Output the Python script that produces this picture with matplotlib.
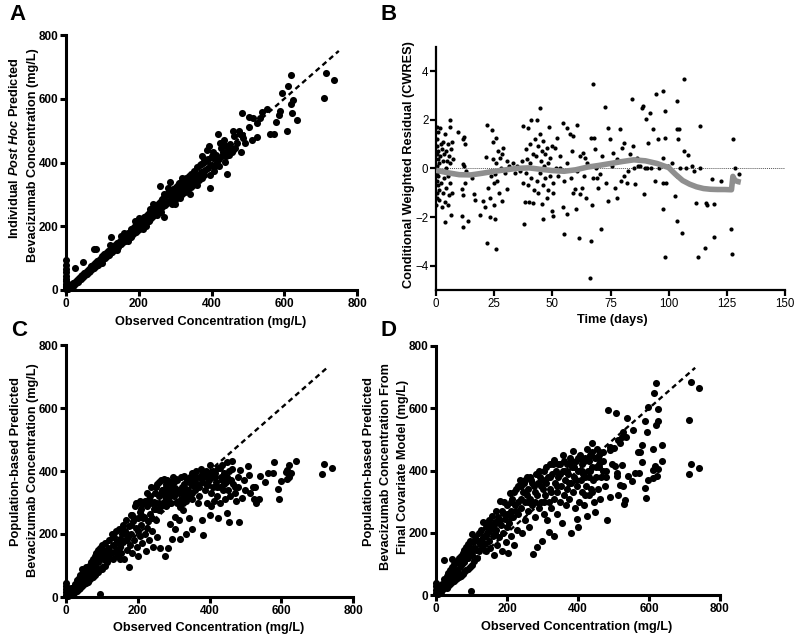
import matplotlib
matplotlib.use('Agg')
import matplotlib.pyplot as plt
import numpy as np

plt.rcParams['font.family'] = ['Liberation Sans', 'DejaVu Sans']
plt.rcParams['mathtext.fontset'] = 'custom'
plt.rcParams['mathtext.it'] = 'Liberation Sans:italic:bold'
plt.rcParams['mathtext.rm'] = 'Liberation Sans:bold'

# ---- data ------------------------------------------------------------------
# panel A: observed vs individual post hoc predicted (mg/L)
pairs_a = [
    (0, 4), (0, 12), (0, 20), (0, 28), (0, 36), (0, 45), (0, 55), (0, 65), (0, 78), (0, 94),
    (1, 8), (2, 18), (3, 2), (4, 6), (6, 4),
    (8, 10), (10, 6), (12, 15), (14, 9), (16, 18), (18, 14), (20, 22), (22, 16), (25, 68), (25, 26),
    (27, 21), (30, 32), (32, 26), (35, 38), (37, 31), (40, 43), (42, 36), (45, 48), (48, 87), (47, 42),
    (50, 54), (52, 46), (55, 58), (57, 51), (60, 64), (62, 56), (65, 69), (67, 60), (70, 74), (72, 65),
    (75, 80), (77, 70), (78, 128), (82, 128), (80, 84), (82, 76), (85, 90), (87, 80), (90, 95), (92, 86),
    (95, 100), (97, 90), (100, 106), (102, 96),
    (105, 112), (107, 101), (110, 116), (112, 106), (115, 121), (117, 110), (120, 126), (122, 115),
    (123, 165), (125, 131), (127, 120), (130, 137), (132, 124), (135, 142), (137, 130), (140, 147),
    (142, 134), (145, 152), (147, 140), (150, 158), (152, 144), (155, 162), (157, 150), (160, 168),
    (162, 154), (165, 172), (167, 158), (170, 178), (172, 163), (175, 183), (177, 168), (180, 190),
    (182, 173), (185, 195), (187, 178), (190, 200), (192, 183), (195, 205), (197, 188), (200, 212),
    (202, 192), (205, 218), (207, 197), (210, 222), (212, 190),
    (215, 228), (217, 205), (220, 232), (222, 212), (225, 238), (227, 218), (230, 244), (232, 224),
    (235, 250), (237, 228), (240, 256), (242, 234), (245, 262), (247, 240), (250, 268), (252, 246),
    (255, 274), (257, 250), (258, 325), (260, 280), (262, 256), (265, 286), (267, 262), (270, 230),
    (270, 292), (272, 268), (275, 298), (277, 272), (280, 304), (282, 278), (285, 308), (287, 338),
    (288, 282), (290, 312), (292, 270), (295, 316), (297, 290), (300, 282),
    (302, 322), (305, 300), (308, 330), (310, 312), (313, 290), (315, 340), (318, 318), (320, 300),
    (323, 348), (325, 326), (328, 308), (330, 352), (333, 334), (335, 316), (338, 358), (340, 340),
    (343, 322), (345, 365), (348, 346), (350, 330), (353, 372), (355, 352), (358, 336), (360, 385),
    (363, 362), (365, 345), (368, 392), (370, 370), (373, 352), (375, 420), (378, 400), (380, 410),
    (383, 378), (385, 405), (388, 440), (390, 382), (393, 452), (395, 362), (397, 320), (400, 392),
    (403, 432), (405, 415), (408, 372), (412, 424), (415, 402), (418, 488), (420, 412), (422, 460),
    (425, 446), (428, 420), (432, 432), (435, 472), (438, 402), (440, 452), (442, 365), (445, 440),
    (448, 422), (450, 458), (455, 432), (460, 500), (463, 482), (465, 445), (470, 462), (475, 498),
    (478, 490), (480, 432),
    (150, 170), (170, 155), (190, 215), (210, 200), (230, 255), (250, 235), (270, 300), (290, 295),
    (310, 335), (330, 315), (350, 360), (370, 395), (390, 410), (410, 390), (430, 455), (450, 440),
    (360, 330), (340, 300), (320, 330), (300, 305),
    (100, 85), (120, 140), (140, 125), (160, 180), (180, 165), (200, 225), (220, 200), (240, 270),
    (260, 245), (280, 320), (300, 270), (320, 350), (340, 330), (380, 360), (400, 420), (420, 390),
    (440, 420), (460, 440),
    (483, 554), (483, 486), (487, 476), (492, 460), (504, 542), (515, 539), (504, 510), (510, 471),
    (524, 479), (524, 523), (532, 539), (538, 557), (552, 568), (561, 489), (572, 489), (577, 528),
    (585, 549), (588, 562), (595, 619), (608, 500), (611, 641), (618, 674), (618, 583), (622, 554),
    (623, 596), (636, 533), (710, 601), (715, 680), (738, 659),
]

# panel B: time (days) vs CWRES
pairs_b = [
    (0.2, -1.5), (0.3, -1.0), (0.3, -0.5), (0.3, 0.1), (0.3, 0.6), (0.3, 1.2), (0.4, 1.7), (0.5, -0.2),
    (0.5, 0.9), (0.6, -1.2), (0.8, 0.4), (0.8, -0.7), (1.0, 1.5), (1.0, -0.3), (1.0, 0.7), (1.2, -0.9),
    (1.5, 0.2), (1.5, -1.3), (1.7, 1.67), (1.8, 0.5), (2.0, -0.6), (2.0, 1.0), (2.3, -0.1), (2.5, 0.8),
    (2.5, -1.6), (3.0, 0.3), (3.0, -1.0), (3.2, 1.1), (3.5, -0.4), (3.6, 0.6), (3.9, 1.4), (4.0, -2.2),
    (4.0, -1.4), (4.2, 0.0), (4.5, 0.7), (4.5, -0.8), (4.8, 0.3), (5.0, -1.5), (5.0, 1.0), (5.3, -0.3),
    (5.5, 0.5), (5.6, -1.1), (6.0, 2.0), (6.0, 1.7), (6.0, 0.2), (6.2, -0.6), (6.3, -1.9), (6.5, 0.8),
    (6.7, 1.1), (7.0, -0.2), (7.0, -1.0), (7.2, 0.4),
    (9.6, 1.5), (11.0, -0.86), (11.5, 0.16), (11.5, -1.1), (11.3, -1.96), (11.7, 1.2), (11.7, -2.4),
    (12.0, 1.3), (12.5, 1.0), (12.5, -0.6), (12.2, 0.1), (13.0, -0.1), (13.9, -2.16), (15.3, -0.4),
    (16.3, -1.07), (16.8, -1.3),
    (18.9, -1.9), (20.3, -1.34), (21.0, -1.6), (21.5, 0.45), (22.0, 1.8), (22.0, -3.05), (22.5, -0.8),
    (23.2, -1.2), (23.0, -2.0), (23.5, -0.3), (24.0, 1.56), (24.4, 1.1), (24.6, 0.4), (24.8, -1.5),
    (25.0, -0.6), (25.4, -0.25), (25.5, -2.1), (25.8, -3.33), (26.0, 1.26), (26.0, 0.2), (26.4, -0.5),
    (26.8, 0.7), (27.0, -1.0), (27.5, 0.44), (27.8, 0.0), (28.2, -1.34), (28.5, 0.6), (29.0, 0.85),
    (29.7, -0.18), (30.4, 0.3), (30.7, -0.86), (31.5, 0.1),
    (33.0, 0.2), (34.0, -0.2), (35.0, 0.1), (36.0, -0.1), (37.0, 0.3), (37.5, 1.74), (37.5, -0.6),
    (38.0, -2.27), (38.3, -1.4), (38.5, 0.8), (38.5, -0.2), (39.0, 0.4), (39.7, 1.67), (39.5, -0.7),
    (40.0, -1.4), (40.4, 0.99), (40.5, 0.2), (41.0, 2.0), (41.0, -0.4), (41.5, 0.6), (41.8, -1.41),
    (42.0, -0.9), (42.6, 1.2), (42.5, 0.0), (43.0, 0.5), (43.3, 2.0), (43.5, -0.5), (43.8, -1.0),
    (44.0, 0.9), (44.7, 2.46), (44.7, 1.4), (44.5, -0.2), (45.0, 0.3), (45.4, -1.48), (45.5, 0.7),
    (45.8, -0.7), (46.0, -2.1), (46.1, 1.12), (46.5, 0.1), (47.0, -0.4), (47.0, 0.6), (47.6, 0.85),
    (47.6, -1.2), (48.0, -0.9), (48.2, 0.2), (48.7, 1.7), (49.0, 0.44), (49.0, -0.3), (49.7, -1.75),
    (50.0, 0.9), (50.4, -1.96), (50.4, -1.0), (50.5, -0.6), (51.0, 0.85), (51.5, 0.0), (51.9, 1.26),
    (52.5, -0.3), (53.3, 0.03), (53.5, 0.5),
    (54.7, 1.88), (54.7, -1.6), (55.0, -2.71), (55.0, -0.5), (56.2, -1.89), (56.5, 1.67), (56.5, 0.2),
    (57.6, 1.4), (58.0, -0.4), (58.5, 0.7), (59.0, 1.33), (59.0, -1.0), (59.8, -0.86), (60.2, -1.68),
    (60.5, 1.8), (60.5, -0.1), (61.5, -2.85), (62.0, -1.07), (62.0, 0.5), (62.6, -0.8), (63.3, 0.64),
    (63.5, -0.3), (64.0, 0.44), (64.5, -1.2), (65.0, 0.2), (66.2, -4.49), (66.5, -3.0), (66.9, -1.5),
    (66.5, 1.26), (67.3, 3.48), (67.5, -0.4), (68.0, 1.26), (68.4, 0.78), (68.8, 0.0), (69.1, -0.38),
    (69.5, -0.8), (70.5, -0.25), (70.8, -2.5),
    (71.5, 0.5), (72.7, 2.52), (73.0, -0.6), (74.0, 1.67), (74.0, -1.34), (74.8, 1.2), (75.5, 0.1),
    (76.2, 0.64), (77.0, -0.8), (77.7, -1.2), (78.0, 0.4), (79.0, 1.6), (79.5, -0.5), (79.8, 0.85),
    (80.6, 1.06), (81.0, -0.3), (82.0, -0.6), (82.7, -0.1), (83.5, 0.6), (84.4, 2.84), (84.8, 0.92),
    (85.0, 0.0), (85.6, -0.66), (86.3, 0.44), (87.0, 0.1), (87.7, 0.1), (88.4, 2.5), (89.1, 2.55),
    (89.4, -1.07), (90.0, 0.0), (90.3, 2.01), (90.6, 0.03), (91.3, 1.06), (92.0, 2.29), (92.5, 0.0),
    (93.4, 1.6), (94.1, -0.52), (94.6, 3.07), (95.6, 1.2), (96.0, 0.0), (97.7, 3.18), (97.7, 0.44),
    (97.7, -0.6), (97.7, -1.68), (98.4, 1.26), (98.4, 2.36), (98.4, -3.64), (98.8, -0.6), (99.5, 0.1),
    (101.5, 0.2), (102.8, -1.14), (103.5, 2.77), (103.5, 1.6), (103.5, -0.32), (103.5, -2.16),
    (104.2, 1.2), (104.6, 1.6), (105.0, 0.0), (105.6, -2.67), (106.4, 0.71), (106.7, 3.66),
    (107.5, 0.03), (108.5, 0.55), (110.0, 0.1), (110.7, -0.11), (111.7, -1.41), (112.8, -3.64),
    (113.5, 1.74), (113.5, 0.03), (115.6, -3.26), (116.0, -1.41), (116.5, -1.5), (118.5, -0.45),
    (119.3, -1.48), (119.3, -2.82), (122.6, -0.52), (126.9, -2.5), (127.2, -3.5), (127.5, 1.22),
    (128.5, 0.03), (130.4, -0.25),
]

# grey smoother through the residuals
loess_t = [0, 5, 10, 15, 20, 25, 30, 35, 40, 45, 50, 55, 60, 65, 70, 75, 80, 85, 90, 95, 100,
           103, 106, 109, 112, 115, 118, 121, 124, 127, 127.6, 128.5, 130, 131]
loess_r = [-0.08, -0.18, -0.26, -0.27, -0.2, -0.12, -0.06, 0.0, 0.02, -0.04, -0.09, -0.12, -0.06,
           0.05, 0.12, 0.2, 0.28, 0.35, 0.31, 0.2, 0.03, -0.25, -0.5, -0.65, -0.76, -0.83, -0.86,
           -0.87, -0.87, -0.88, -0.33, -0.5, -0.55, -0.57]

# panel C: observed vs population predicted (base model)
pairs_c = [
    (0, 5), (0, 15), (0, 25), (0, 35), (0, 45), (2, 8), (4, 20), (5, 3), (8, 12), (10, 5),
    (12, 18), (14, 8), (15, 28), (18, 14), (20, 30), (20, 10), (22, 22), (25, 40), (25, 15), (28, 30),
    (30, 55), (30, 20), (32, 38), (35, 60), (35, 25), (38, 45), (40, 70), (40, 30), (42, 55), (45, 90),
    (45, 35), (47, 62), (50, 75), (50, 40), (52, 50), (55, 95), (55, 45), (58, 70), (60, 85), (60, 48),
    (62, 60), (65, 100), (65, 55), (68, 78), (70, 110), (70, 60), (72, 88), (75, 120), (75, 65),
    (78, 95), (80, 130), (80, 70), (82, 105), (85, 140), (85, 75), (88, 115), (90, 150), (90, 80),
    (92, 125), (95, 155), (95, 11), (95, 88), (98, 135), (100, 165), (100, 90), (102, 120), (105, 145),
    (108, 100), (110, 170), (112, 130), (115, 110), (118, 155), (120, 180), (120, 125), (125, 140),
    (128, 200), (130, 165), (132, 120), (135, 190), (138, 150), (140, 210), (142, 130), (145, 175),
    (148, 215), (150, 160), (152, 140), (155, 200), (158, 230), (160, 175), (162, 120), (165, 210),
    (168, 245), (170, 150), (172, 190), (175, 95), (175, 225), (178, 165), (180, 260), (182, 200),
    (185, 140), (188, 240), (190, 180), (192, 290), (195, 220), (195, 300), (198, 160), (200, 300),
    (200, 250), (202, 130), (205, 195), (205, 305), (208, 280), (210, 230), (212, 170), (212, 295),
    (215, 300), (218, 255), (220, 200), (220, 305), (222, 145), (225, 290), (228, 240), (230, 310),
    (230, 298), (232, 180), (235, 265), (238, 350), (240, 300), (240, 210), (243, 160), (245, 280),
    (245, 302), (248, 330), (250, 245), (252, 300), (255, 360), (255, 190), (258, 275), (260, 320),
    (260, 300), (262, 155), (265, 370), (265, 290), (268, 340), (270, 300), (272, 375), (275, 130),
    (275, 320), (275, 305), (278, 350), (280, 290), (282, 370), (285, 310), (285, 155), (288, 340),
    (290, 365), (290, 233), (292, 300), (295, 350), (295, 185), (298, 380), (300, 320), (303, 254),
    (305, 345), (305, 215), (308, 375), (310, 300), (315, 330), (315, 245), (317, 285), (317, 185),
    (320, 380), (322, 350), (325, 300), (325, 275), (328, 360), (330, 385), (332, 320), (335, 200),
    (335, 305), (338, 370), (340, 340), (342, 330), (343, 250), (345, 380), (348, 360), (350, 217),
    (350, 395), (350, 355), (352, 310), (355, 370), (358, 390), (360, 340), (362, 400), (365, 360),
    (368, 300), (370, 380), (372, 350), (375, 405), (378, 244), (380, 365), (382, 196), (385, 380),
    (388, 340), (390, 400), (392, 300), (395, 355), (398, 370), (400, 420), (400, 260), (403, 330),
    (405, 290), (408, 380), (410, 350), (412, 305), (415, 395), (418, 365), (420, 320), (424, 250),
    (425, 410), (428, 350), (430, 300), (432, 380), (435, 420), (438, 340), (440, 395), (442, 310),
    (445, 365), (448, 430), (450, 268), (452, 340), (455, 238), (455, 400), (458, 320), (462, 405),
    (462, 432), (465, 360), (470, 350), (475, 305), (480, 350), (483, 239), (485, 403), (491, 313),
    (205, 270), (215, 250), (225, 330), (235, 320), (250, 350), (260, 365), (270, 340), (280, 330),
    (290, 320), (300, 365), (310, 340), (320, 310), (330, 350), (340, 375), (350, 330), (360, 375),
    (370, 320), (380, 390), (390, 360), (400, 380), (410, 400), (420, 350), (430, 410), (440, 360),
    (450, 380), (460, 370), (470, 330), (480, 380), (495, 370), (500, 340), (180, 230), (190, 250),
    (170, 200), (160, 210), (150, 185), (140, 170), (130, 190), (120, 150), (110, 140), (100, 130),
    (90, 110), (80, 100), (70, 85), (60, 70), (50, 60), (40, 50), (30, 40),
    (150, 120), (165, 180), (185, 260), (200, 210), (210, 260), (225, 220), (240, 250), (250, 280),
    (265, 330), (280, 360), (295, 330), (310, 370), (325, 340), (345, 320), (360, 360), (375, 380),
    (395, 390), (415, 380), (435, 370), (455, 370),
    (506, 417), (511, 387), (513, 329), (520, 350), (525, 310), (527, 350), (530, 297), (531, 308),
    (539, 310), (541, 384), (555, 366), (564, 395), (576, 395), (580, 429), (590, 343), (593, 312),
    (598, 369), (613, 398), (617, 403), (617, 374), (622, 418), (622, 380), (626, 393), (640, 432),
    (714, 389), (719, 421), (742, 410),
]

# panel D: observed vs population predicted (final covariate model)
pairs_d = [
    (0, 5), (0, 15), (0, 28), (0, 40), (2, 10), (4, 22), (5, 4), (8, 14), (10, 6), (12, 25),
    (15, 10), (18, 35), (20, 18), (22, 113), (22, 50), (25, 25), (28, 45), (30, 60), (30, 22), (32, 40),
    (35, 70), (35, 30), (38, 55), (40, 80), (40, 35), (42, 60), (44, 117), (45, 90), (45, 42), (48, 70),
    (50, 100), (50, 45), (52, 62), (55, 105), (55, 50), (58, 80), (60, 110), (60, 55), (62, 70),
    (65, 120), (65, 58), (68, 90), (70, 125), (70, 62), (72, 100), (75, 135), (75, 68), (78, 110),
    (80, 145), (80, 75), (82, 120), (85, 155), (85, 80), (88, 130), (90, 165), (90, 85), (92, 140),
    (95, 175), (95, 90), (98, 14), (98, 150), (100, 195), (100, 95), (102, 130), (105, 170), (108, 110),
    (110, 185), (112, 145), (115, 120), (118, 175), (120, 200), (122, 140), (125, 165), (128, 210),
    (130, 150), (133, 233), (135, 190), (138, 165), (140, 220), (142, 140), (145, 200), (148, 240),
    (150, 175), (152, 150), (155, 220), (158, 255), (160, 190), (162, 130), (165, 235), (168, 270),
    (170, 210), (172, 160), (175, 250), (178, 185), (180, 302), (182, 225), (185, 140), (188, 265),
    (190, 200), (192, 300), (195, 245), (198, 170), (200, 290), (202, 135), (205, 230), (208, 329),
    (210, 270), (212, 190), (215, 310), (218, 250), (220, 160), (222, 290), (225, 340), (228, 210),
    (230, 300), (232, 260), (235, 350), (237, 371), (240, 280), (242, 200), (245, 330), (248, 360),
    (250, 240), (252, 300), (255, 380), (258, 270), (260, 340), (262, 220), (265, 310), (268, 370),
    (270, 290), (274, 131), (275, 350), (278, 250), (282, 390), (284, 153), (285, 320), (288, 360),
    (290, 280), (292, 380), (295, 300), (298, 174), (300, 340), (303, 260), (305, 400), (308, 320),
    (310, 360), (312, 240), (315, 380), (318, 204), (318, 300), (320, 420), (322, 340), (325, 280),
    (328, 390), (331, 190), (331, 435), (333, 310), (335, 360), (338, 400), (340, 260), (342, 330),
    (345, 380), (348, 300), (350, 420), (352, 350), (355, 230), (357, 400), (359, 451), (360, 320),
    (363, 370), (365, 290), (368, 420), (370, 340), (373, 390), (375, 310), (378, 440), (380, 198),
    (380, 360), (383, 410), (385, 330), (387, 462), (390, 380), (392, 280), (395, 430), (396, 243),
    (398, 350), (399, 217), (400, 400), (403, 300), (405, 450), (408, 370), (410, 330), (412, 420),
    (415, 390), (418, 290), (420, 440), (422, 350), (424, 254), (425, 470), (428, 400), (430, 320),
    (432, 380), (435, 450), (438, 340), (439, 489), (440, 410), (443, 370), (445, 300), (448, 267),
    (448, 440), (450, 380), (453, 470), (455, 340), (458, 410), (460, 450), (462, 310), (465, 380),
    (470, 430), (475, 350), (478, 400), (481, 240),
    (200, 260), (210, 300), (220, 330), (230, 350), (240, 310), (250, 370), (260, 300), (270, 360),
    (280, 330), (290, 400), (300, 370), (310, 410), (320, 380), (330, 420), (340, 350), (350, 390),
    (360, 430), (370, 400), (380, 430), (390, 410), (400, 440), (410, 400), (420, 380), (430, 430),
    (440, 460), (450, 410), (460, 420), (470, 400), (480, 380), (180, 240), (170, 230), (160, 220),
    (150, 205), (140, 190), (130, 180), (120, 170), (110, 150), (100, 140), (90, 120), (80, 105),
    (70, 95), (60, 80), (50, 70), (40, 55), (30, 45),
    (150, 230), (165, 200), (185, 270), (200, 220), (210, 250), (225, 270), (240, 350), (255, 320),
    (265, 380), (280, 300), (295, 350), (305, 300), (325, 330), (345, 420), (360, 400), (375, 360),
    (395, 370), (415, 430), (435, 400), (455, 440), (470, 460), (420, 320), (440, 330),
    (485, 594), (490, 476), (490, 465), (490, 316), (495, 420), (500, 471), (504, 414), (507, 584),
    (509, 391), (509, 383), (514, 498), (514, 321), (518, 487), (518, 353), (523, 507), (523, 418),
    (526, 350), (528, 525), (529, 292), (532, 305), (534, 507), (539, 568), (542, 383), (551, 366),
    (554, 530), (561, 393), (568, 460), (573, 393), (574, 460), (579, 482), (579, 428), (589, 343),
    (590, 559), (592, 313), (593, 525), (596, 369), (598, 605), (610, 468), (612, 401), (612, 376),
    (615, 648), (617, 414), (620, 680), (620, 546), (622, 383), (624, 597), (624, 559), (624, 404),
    (636, 431), (638, 482), (714, 562), (714, 388), (718, 685), (718, 421), (740, 666), (740, 409),
]

conc_ticks = [0, 200, 400, 600, 800]
time_ticks = [0, 25, 50, 75, 100, 125, 150]
cwres_ticks = [-4, -2, 0, 2, 4]

# ---- layout helpers (pixel based, 800x640) ---------------------------------
W, H = 800, 640
fig = plt.figure(figsize=(8, 6.4), dpi=100)


def box(x0, y_top, x1, y_bot):
    return [x0 / W, 1 - y_bot / H, (x1 - x0) / W, (y_bot - y_top) / H]


def ptext(px, py, s, **kw):
    kw.setdefault('ha', 'center')
    kw.setdefault('va', 'center')
    fig.text(px / W, 1 - py / H, s, **kw)


def style_axes(ax, lw, bold):
    for side in ['top', 'right']:
        ax.spines[side].set_visible(False)
    for side in ['left', 'bottom']:
        ax.spines[side].set_linewidth(lw)
    ax.tick_params(width=lw, length=4, pad=1.5, labelsize=8.5 if bold else 8.3)
    for lab in ax.get_xticklabels() + ax.get_yticklabels():
        lab.set_fontweight('bold' if bold else 'normal')


def conc_panel(ax, pairs, line_end):
    obs, pred = np.array(pairs, dtype=float).T
    ax.plot([0, line_end], [0, line_end], color='black', lw=1.7,
            linestyle=(0, (2.2, 1.6)), zorder=1)
    ax.scatter(obs, pred, s=26, color='black', linewidths=0, clip_on=False, zorder=2)
    ax.set_xlim(0, 800)
    ax.set_ylim(0, 800)
    ax.set_xticks(conc_ticks)
    ax.set_yticks(conc_ticks)
    style_axes(ax, 2.2, True)


lab_kw = dict(fontsize=9.2, fontweight='bold')

# A
ax_a = fig.add_axes(box(66, 35, 357, 290))
conc_panel(ax_a, pairs_a, 750)
ptext(211, 322, 'Observed Concentration (mg/L)', **lab_kw)
ptext(15, 148, r'Individual $\it{Post\ Hoc}$ Predicted', rotation=90, **lab_kw)
ptext(33, 155, 'Bevacizumab Concentration (mg/L)', rotation=90, **lab_kw)

# B
ax_b = fig.add_axes(box(436, 46.7, 785, 290))
t_b, r_b = np.array(pairs_b, dtype=float).T
ax_b.axhline(0, color='#555555', lw=0.7, linestyle=(0, (1, 1)), zorder=1)
ax_b.scatter(t_b, r_b, s=9, color='black', linewidths=0, zorder=2)
ax_b.plot(loess_t, loess_r, color='#8f8f8f', lw=4, solid_capstyle='butt', zorder=3)
ax_b.set_xlim(0, 150)
ax_b.set_ylim(-5, 5)
ax_b.set_xticks(time_ticks)
ax_b.set_yticks(cwres_ticks)
style_axes(ax_b, 1.6, False)
ptext(612, 320, 'Time (days)', **lab_kw)
ptext(409, 165, 'Conditional Weighted Residual (CWRES)', rotation=90, **lab_kw)

# C
ax_c = fig.add_axes(box(66, 345, 353, 597))
conc_panel(ax_c, pairs_c, 730)
ptext(209, 628, 'Observed Concentration (mg/L)', **lab_kw)
ptext(16, 461, 'Population-based Predicted', rotation=90, **lab_kw)
ptext(33, 470, 'Bevacizumab Concentration (mg/L)', rotation=90, **lab_kw)

# D
ax_d = fig.add_axes(box(436, 346, 720, 595))
conc_panel(ax_d, pairs_d, 730)
ptext(577, 627, 'Observed Concentration (mg/L)', **lab_kw)
ptext(369, 461, 'Population-based Predicted', rotation=90, **lab_kw)
ptext(386, 467, 'Bevacizumab Concentration From', rotation=90, **lab_kw)
ptext(403, 467, 'Final Covariate Model (mg/L)', rotation=90, **lab_kw)

# panel letters
for px, py, letter in [(18, 15, 'A'), (389, 15, 'B'), (19, 331, 'C'), (389, 331, 'D')]:
    ptext(px, py, letter, fontsize=16, fontweight='bold')

fig.savefig('out.png', dpi=100)
